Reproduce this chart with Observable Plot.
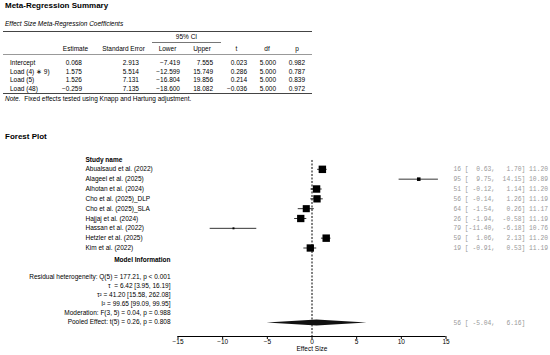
<!DOCTYPE html>
<html><head><meta charset="utf-8">
<script src="https://cdn.jsdelivr.net/npm/d3@7"></script>
<script src="https://cdn.jsdelivr.net/npm/@observablehq/plot@0.6"></script>
<style>
body{margin:0;background:#fff;font-family:"Liberation Sans",Arial,sans-serif;color:#000;}
#wrap{position:relative;width:550px;height:355px;overflow:hidden;}
.title{position:absolute;left:5px;font-weight:bold;font-size:8px;line-height:10px;white-space:nowrap;}
.sub{position:absolute;left:5px;top:20px;font-style:italic;font-size:6.5px;line-height:8px;white-space:nowrap;}
.note{position:absolute;left:5px;top:95px;font-size:6.5px;line-height:8px;white-space:nowrap;}
#tbl{position:absolute;left:3px;top:31px;border-collapse:collapse;font-size:6.5px;table-layout:fixed;width:309px;border-top:1.5px solid #444;border-bottom:1.5px solid #444;}
#tbl td{padding:0;height:8.5px;line-height:8.5px;white-space:nowrap;}
#tbl tr.ci td{height:10px;line-height:10px;}
#tbl tr.ci td.cic{border-bottom:1px solid #777;text-align:center;}
#tbl tr.hd td{height:11px;line-height:11px;border-bottom:1px solid #999;text-align:center;}
#tbl tr.first td{padding-top:4px;}
#tbl td.lab{padding-left:7px;text-align:left;}
#chart{position:absolute;left:0;top:150px;}
</style></head>
<body>
<div id="wrap">
  <div class="title" style="top:1px">Meta-Regression Summary</div>
  <div class="sub">Effect Size Meta-Regression Coefficients</div>
  <table id="tbl"></table>
  <div class="note"><i>Note.</i>&nbsp; Fixed effects tested using Knapp and Hartung adjustment.</div>
  <div class="title" style="top:132px">Forest Plot</div>
  <div id="chart"></div>
</div>
<script>
// ---- Meta-regression table data ----
const coefHeaders = ["", "Estimate", "Standard Error", "Lower", "Upper", "t", "df", "p"];
const coefTerms = ["Intercept", "Load (4) \u2217 9)", "Load (5)", "Load (48)"];
const coefEstimate = [0.068, 1.575, 1.526, -0.259];
const coefSE = [2.913, 5.514, 7.131, 7.135];
const coefLower = [-7.419, -12.599, -16.804, -18.600];
const coefUpper = [7.555, 15.749, 19.856, 18.082];
const coefT = [0.023, 0.286, 0.214, -0.036];
const coefDf = [5, 5, 5, 5];
const coefP = [0.982, 0.787, 0.839, 0.972];

// ---- Forest plot data ----
const studyNames = ["Abualsaud et al. (2022)", "Alageel et al. (2025)", "Alhotan et al. (2024)",
  "Cho et al. (2025)_DLP", "Cho et al. (2025)_SLA", "Hajjaj et al. (2024)",
  "Hassan et al. (2022)", "Hetzler et al. (2025)", "Kim et al. (2022)"];
const studyEst = [1.16, 11.95, 0.51, 0.56, -0.64, -1.26, -8.79, 1.59, -0.19];
const studyLower = [0.63, 9.75, -0.12, -0.14, -1.54, -1.94, -11.40, 1.06, -0.91];
const studyUpper = [1.70, 14.15, 1.14, 1.26, 0.26, -0.58, -6.18, 2.13, 0.53];
const studyWeight = [11.20, 10.89, 11.20, 11.19, 11.17, 11.19, 10.76, 11.20, 11.19];
const pooledEst = 0.56, pooledLower = -5.04, pooledUpper = 6.16;
const modelLines = [
  "Residual heterogeneity: Q(5) = 177.21, p < 0.001",
  "\u03c4  = 6.42 [3.95, 16.19]",
  "\u03c4\u00b2 = 41.20 [15.58, 262.08]",
  "I\u00b2 = 99.65 [99.09, 99.95]",
  "Moderation: F(3, 5) = 0.04, p = 0.988",
  "Pooled Effect: t(5) = 0.26, p = 0.808"
];
const xTicks = [-15, -10, -5, 0, 5, 10, 15];

// ---- build table ----
const colW = [53, 39, 57, 31, 38, 31, 30, 30];
const padR = [0, 13, 13, 3, 8, 5, 6, 7];
const tbl = document.getElementById("tbl");
const cg = document.createElement("colgroup");
colW.forEach(w => { const c = document.createElement("col"); c.style.width = w + "px"; cg.appendChild(c); });
tbl.appendChild(cg);
const f3 = v => v.toFixed(3).replace("-", "\u2212");
{
  const tr = tbl.insertRow(); tr.className = "ci";
  [0,1,2].forEach(() => tr.insertCell());
  const c = tr.insertCell(); c.colSpan = 2; c.className = "cic"; c.textContent = "95% CI";
  [5,6,7].forEach(() => tr.insertCell());
  const hr = tbl.insertRow(); hr.className = "hd";
  coefHeaders.forEach(h => { const td = hr.insertCell(); td.textContent = h; });
}
coefTerms.forEach((term, i) => {
  const tr = tbl.insertRow(); if (i === 0) tr.className = "first";
  const vals = [coefEstimate[i], coefSE[i], coefLower[i], coefUpper[i], coefT[i], coefDf[i], coefP[i]];
  const lab = tr.insertCell(); lab.className = "lab"; lab.textContent = term;
  vals.forEach((v, j) => {
    const td = tr.insertCell(); td.textContent = f3(v);
    td.style.textAlign = "right"; td.style.paddingRight = padR[j + 1] + "px";
  });
});

// ---- forest plot ----
const f2 = (v, n) => v.toFixed(2).padStart(n);
const studies = studyNames.map((name, i) => ({
  name, est: studyEst[i], lo: studyLower[i], hi: studyUpper[i], w: studyWeight[i], row: i + 1,
  label: `${f2(studyEst[i], 5)} [${f2(studyLower[i], 6)}, ${f2(studyUpper[i], 6)}] ${f2(studyWeight[i], 5)}`.slice(3)
}));
const pooledRow = 16.63;
const pooledLabel = `${f2(pooledEst, 5)} [${f2(pooledLower, 6)}, ${f2(pooledUpper, 6)}]`.slice(3);
const dh = 0.3;
const diamond = [
  {y: pooledRow - dh, x1: pooledEst, x2: pooledEst},
  {y: pooledRow, x1: pooledLower, x2: pooledUpper},
  {y: pooledRow + dh, x1: pooledEst, x2: pooledEst}
];
const mono = "'Liberation Mono', 'DejaVu Sans Mono', monospace";

const chart = Plot.plot({
  width: 550, height: 205,
  marginLeft: 177.5, marginRight: 104.5, marginTop: 9, marginBottom: 19,
  style: {fontFamily: "'Liberation Sans', Arial, sans-serif", fontSize: "6.5px", background: "transparent", overflow: "visible"},
  x: {domain: [-15, 15]},
  y: {domain: [0, 18], reverse: true, axis: null},
  r: {type: "linear", domain: [10.76, 11.20], range: [1.1, 4.2]},
  marks: [
    Plot.ruleX([0], {y1: 0.1, y2: 18, stroke: "#000", strokeWidth: 1, strokeDasharray: "2,1.5"}),
    Plot.ruleY(studies, {y: "row", x1: "lo", x2: "hi", stroke: "#000", strokeWidth: 0.8}),
    Plot.dot(studies, {x: "est", y: "row", r: "w", symbol: "square", fill: "#000"}),
    Plot.areaX(diamond, {y: "y", x1: "x1", x2: "x2", fill: "#111"}),
    Plot.ruleY([18], {stroke: "#000", strokeWidth: 1}),
    Plot.axisX(xTicks, {tickSize: 3, tickPadding: 0, label: null, fontSize: 6.5}),
    Plot.text(["Effect Size"], {frameAnchor: "bottom", dy: 14.5, fontSize: 6.5}),
    Plot.text(["Study name"], {y: () => 0, frameAnchor: "left", dx: -92.5, textAnchor: "start", fontWeight: "bold", fontSize: 6.5}),
    Plot.text(studies, {y: "row", text: "name", frameAnchor: "left", dx: -92.5, textAnchor: "start", fontSize: 6.5}),
    Plot.text(["Model Information"], {y: () => 10.17, frameAnchor: "left", dx: -7.5, textAnchor: "end", fontWeight: "bold", fontSize: 6.5}),
    Plot.text([modelLines.join("\n")], {y: () => 14.19, frameAnchor: "left", dx: -7.5, textAnchor: "end", lineAnchor: "middle", lineHeight: 9 / 6.5, fontSize: 6.5}),
    Plot.text(studies, {y: "row", text: "label", frameAnchor: "right", dx: 7.5, textAnchor: "start", fontFamily: mono, fontSize: 6.3, fill: "#999"}),
    Plot.text([pooledLabel], {y: () => pooledRow, frameAnchor: "right", dx: 7.5, textAnchor: "start", fontFamily: mono, fontSize: 6.3, fill: "#999"})
  ]
});
document.getElementById("chart").appendChild(chart);
</script>
</body></html>
